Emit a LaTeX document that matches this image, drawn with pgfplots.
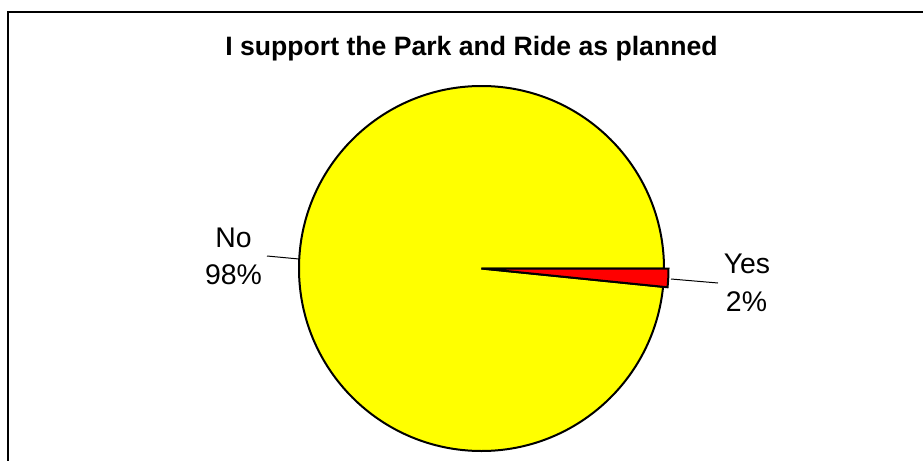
\documentclass[border=0pt]{standalone}
\usepackage{pgfplots}
\pgfplotsset{compat=1.18}
\usepackage{pgfplotstable}
\usepackage{fontspec}
\setmainfont{Liberation Sans}
\definecolor{pieyellow}{RGB}{255,255,0}
\definecolor{piered}{RGB}{255,0,0}
\pgfplotstableread{
label value
Yes 1.6
No 98.4
}\piedata
\pgfplotstablegetelem{0}{value}\of\piedata
\pgfmathsetmacro{\yesang}{3.6*\pgfplotsretval}
\pgfmathsetmacro{\noend}{360-\yesang}
\begin{document}%
\begin{tikzpicture}
\begin{axis}[width=461.5pt,height=230.5pt,scale only axis,
  xmin=0,xmax=923,ymin=0,ymax=461,y dir=reverse,hide axis,clip=false]
\coordinate (BL) at (axis cs:0,461);
\coordinate (TR) at (axis cs:923,0);
\draw[line width=1pt] (axis cs:8,462) -- (axis cs:8,12) -- (axis cs:924,12);
% No slice
\filldraw[fill=pieyellow, line width=1pt] (axis cs:481.5,268.5) -- ++(0:91.25pt) arc[start angle=0,end angle=\noend,radius=91.25pt] -- cycle;
% Yes slice
\filldraw[fill=piered, line width=1pt, line join=miter] (axis cs:481.5,268.5) -- ++(0:93.5pt) arc[start angle=0,end angle=-\yesang,radius=93.5pt] -- cycle;
% leader lines
\draw[line width=0.5pt] (axis cs:267,256) -- (axis cs:299,259);
\draw[line width=0.5pt] (axis cs:671,279) -- (axis cs:718,283);
% labels
\node[anchor=base,inner sep=0pt,font=\fontsize{14.2}{17}\selectfont] at (axis cs:233.5,247) {No};
\node[anchor=base,inner sep=0pt,font=\fontsize{14.2}{17}\selectfont] at (axis cs:233.5,284) {98\%};
\node[anchor=base,inner sep=0pt,font=\fontsize{14.2}{17}\selectfont] at (axis cs:747,273) {Yes};
\node[anchor=base,inner sep=0pt,font=\fontsize{14.2}{17}\selectfont] at (axis cs:746.5,311) {2\%};
% title
\node[anchor=base,inner sep=0pt,font=\fontsize{13.3}{16}\selectfont\bfseries] at (axis cs:471.5,55) {I support the Park and Ride as planned};
\end{axis}
\pgfresetboundingbox
\path (BL) rectangle (TR);
\end{tikzpicture}%
\end{document}
